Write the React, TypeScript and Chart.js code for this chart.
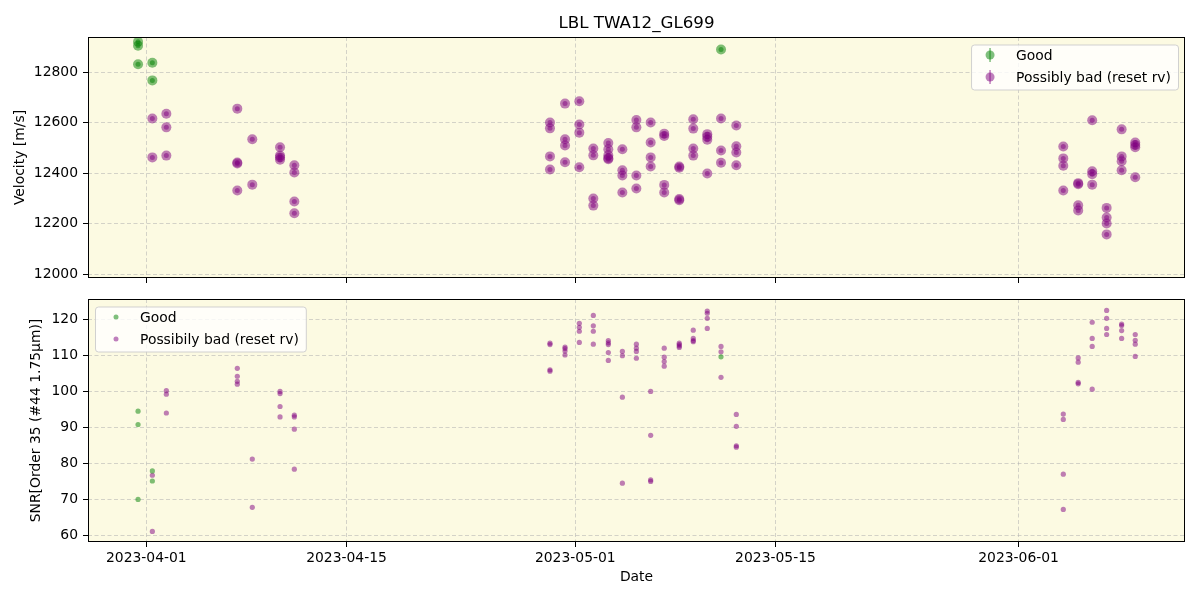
import React, { useEffect, useRef } from "react";
import { Chart, registerables } from "chart.js";

Chart.register(...registerables);

// ---------------- DATA ----------------
const chartTitle = "LBL TWA12_GL699";
const xTickDates = ["2023-04-01", "2023-04-15", "2023-05-01", "2023-05-15", "2023-06-01"];
const velocityTicks = [12000, 12200, 12400, 12600, 12800];
const snrTicks = [60, 70, 80, 90, 100, 110, 120];

const goodDates = [
  "2023-03-31T10:05", "2023-03-31T10:05", "2023-03-31T10:05",
  "2023-04-01T10:05", "2023-04-01T10:05",
  "2023-05-11T04:35",
];
const goodVelocity = [12921, 12905, 12832, 12838, 12768, 12890];
const goodSnr = [94.4, 90.7, 69.9, 77.8, 75.0, 109.5];

const badDates = [
  "2023-04-01T10:05", "2023-04-01T10:05",
  "2023-04-02T09:35", "2023-04-02T09:35", "2023-04-02T09:35",
  "2023-04-07T08:40", "2023-04-07T08:40", "2023-04-07T08:40", "2023-04-07T08:40",
  "2023-04-08T09:50", "2023-04-08T09:50",
  "2023-04-10T08:25", "2023-04-10T08:25", "2023-04-10T08:25", "2023-04-10T08:25",
  "2023-04-11T08:25", "2023-04-11T08:25", "2023-04-11T08:25", "2023-04-11T08:25",
  "2023-04-29T05:30", "2023-04-29T05:30", "2023-04-29T05:30", "2023-04-29T05:30",
  "2023-04-30T06:45", "2023-04-30T06:45", "2023-04-30T06:45", "2023-04-30T06:45",
  "2023-05-01T06:45", "2023-05-01T06:45", "2023-05-01T06:45", "2023-05-01T06:45",
  "2023-05-02T06:15", "2023-05-02T06:15", "2023-05-02T06:15", "2023-05-02T06:15",
  "2023-05-03T07:25", "2023-05-03T07:25", "2023-05-03T07:25", "2023-05-03T07:25", "2023-05-03T07:25",
  "2023-05-04T07:00", "2023-05-04T07:00", "2023-05-04T07:00", "2023-05-04T07:00",
  "2023-05-05T06:30", "2023-05-05T06:30", "2023-05-05T06:30", "2023-05-05T06:30",
  "2023-05-06T06:30", "2023-05-06T06:30", "2023-05-06T06:30", "2023-05-06T06:30",
  "2023-05-07T05:15", "2023-05-07T05:15", "2023-05-07T05:15", "2023-05-07T05:15",
  "2023-05-08T06:30", "2023-05-08T06:30", "2023-05-08T06:30", "2023-05-08T06:30",
  "2023-05-09T06:00", "2023-05-09T06:00", "2023-05-09T06:00", "2023-05-09T06:00",
  "2023-05-10T05:30", "2023-05-10T05:30", "2023-05-10T05:30", "2023-05-10T05:30",
  "2023-05-11T04:35", "2023-05-11T04:35", "2023-05-11T04:35",
  "2023-05-12T06:15", "2023-05-12T06:15", "2023-05-12T06:15", "2023-05-12T06:15",
  "2023-06-04T03:05", "2023-06-04T03:05", "2023-06-04T03:05", "2023-06-04T03:05",
  "2023-06-05T04:05", "2023-06-05T04:05", "2023-06-05T04:05", "2023-06-05T04:05",
  "2023-06-06T03:35", "2023-06-06T03:35", "2023-06-06T03:35", "2023-06-06T03:35",
  "2023-06-07T03:50", "2023-06-07T03:50", "2023-06-07T03:50", "2023-06-07T03:50",
  "2023-06-08T05:00", "2023-06-08T05:00", "2023-06-08T05:00", "2023-06-08T05:00",
  "2023-06-09T03:50", "2023-06-09T03:50", "2023-06-09T03:50", "2023-06-09T03:50",
];
const badVelocity = [
  12617, 12463,
  12636, 12582, 12470,
  12656, 12443, 12439, 12332,
  12535, 12355,
  12503, 12470, 12463, 12454,
  12432, 12403, 12288, 12242,
  12601, 12578, 12467, 12415,
  12676, 12535, 12510, 12444,
  12685, 12593, 12561, 12424,
  12498, 12471, 12300, 12272,
  12520, 12495, 12471, 12460, 12456,
  12495, 12412, 12391, 12324,
  12611, 12582, 12391, 12340,
  12601, 12522, 12463, 12427,
  12557, 12548, 12354, 12324,
  12427, 12422, 12298, 12293,
  12614, 12577, 12498, 12470,
  12555, 12545, 12533, 12399,
  12617, 12490, 12442,
  12589, 12507, 12482, 12432,
  12506, 12459, 12430, 12332,
  12361, 12357, 12273, 12253,
  12610, 12408, 12396, 12355,
  12263, 12225, 12201, 12158,
  12574, 12467, 12448, 12412,
  12522, 12512, 12503, 12384,
];
const badSnr = [
  76.6, 61.0,
  100.1, 99.1, 93.9,
  106.3, 104.1, 102.7, 101.9,
  81.1, 67.7,
  99.9, 99.3, 95.7, 92.8,
  93.3, 92.8, 89.4, 78.3,
  113.3, 112.9, 105.9, 105.5,
  112.2, 111.8, 111.1, 110.0,
  118.8, 117.7, 116.6, 113.5,
  121.0, 118.1, 116.6, 113.0,
  114.0, 113.4, 112.9, 110.7, 108.5,
  111.0, 109.8, 98.3, 74.4,
  113.0, 111.9, 111.0, 109.1,
  99.9, 87.7, 75.3, 74.9,
  111.9, 109.4, 108.2, 106.9,
  113.3, 112.9, 112.5, 112.1,
  116.9, 114.6, 114.0, 113.7,
  122.2, 121.6, 120.2, 117.4,
  112.4, 110.9, 103.8,
  93.5, 90.2, 84.8, 84.4,
  93.6, 92.1, 76.9, 67.1,
  109.2, 108.0, 102.4, 102.0,
  119.1, 114.6, 112.4, 100.5,
  122.4, 120.2, 117.4, 115.7,
  118.6, 118.2, 116.8, 114.6,
  115.7, 114.1, 113.0, 109.6,
];

// ---------------- HELPERS ----------------
const EPOCH = Date.UTC(2023, 3, 1);
const toDay = (s: string) => (Date.parse((s.length > 10 ? s : s + "T00:00") + ":00Z") - EPOCH) / 86400000;
const xTickValues = xTickDates.map(toDay);
const X_MIN = -4.08;
const X_MAX = 72.64;

const FONT = "'DejaVu Sans', sans-serif";
const FS = 13.9;
const BG = "rgb(252,250,226)";
const GREEN = "rgba(0,128,0,0.5)";
const PURPLE = "rgba(128,0,128,0.5)";
const GRID = "rgba(176,176,176,0.55)";

const pts = (dates: string[], vals: number[]) => dates.map((d, i) => ({ x: toDay(d), y: vals[i] }));

const framePlugin = {
  id: "frame",
  beforeDraw(chart: any) {
    const { ctx, chartArea: a } = chart;
    ctx.save();
    ctx.fillStyle = BG;
    ctx.fillRect(a.left, a.top, a.right - a.left, a.bottom - a.top);
    ctx.restore();
  },
  afterDraw(chart: any) {
    const { ctx, chartArea: a } = chart;
    ctx.save();
    ctx.strokeStyle = "#000";
    ctx.lineWidth = 1;
    ctx.strokeRect(Math.round(a.left) + 0.5, Math.round(a.top) + 0.5, Math.round(a.right - a.left) - 1, Math.round(a.bottom - a.top) - 1);
    ctx.restore();
  },
};

function makeLegendPlugin(cfg: { align: "left" | "right"; errorbar: boolean; items: { label: string; color: string }[] }) {
  return {
    id: "customLegend",
    afterDraw(chart: any) {
      const { ctx, chartArea: a } = chart;
      ctx.save();
      ctx.font = `${FS}px ${FONT}`;
      const tw = Math.max(...cfg.items.map((i) => ctx.measureText(i.label).width));
      const w = 45 + tw + 7;
      const h = 45;
      const x = cfg.align === "right" ? a.right - 7 - w : a.left + 7;
      const y = a.top + 7.5;
      ctx.beginPath();
      (ctx as any).roundRect(x + 0.5, y + 0.5, w, h, 3);
      ctx.fillStyle = "rgba(255,255,255,0.8)";
      ctx.fill();
      ctx.strokeStyle = "rgba(204,204,204,0.9)";
      ctx.lineWidth = 1;
      ctx.stroke();
      cfg.items.forEach((it, i) => {
        const ry = y + 10.5 + i * 22;
        const mx = x + (cfg.errorbar ? 19 : 21);
        ctx.fillStyle = it.color;
        if (cfg.errorbar) {
          ctx.strokeStyle = it.color;
          ctx.lineWidth = 1.5;
          ctx.beginPath();
          ctx.moveTo(mx, ry - 7);
          ctx.lineTo(mx, ry + 7);
          ctx.stroke();
          ctx.beginPath();
          ctx.arc(mx, ry, 4.5, 0, Math.PI * 2);
          ctx.fill();
        } else {
          ctx.beginPath();
          ctx.arc(mx, ry, 2.5, 0, Math.PI * 2);
          ctx.fill();
        }
        ctx.fillStyle = "#000";
        ctx.textBaseline = "middle";
        ctx.textAlign = "left";
        ctx.fillText(it.label, x + 45, ry + 1);
      });
      ctx.restore();
    },
  };
}

const titlePlugin = {
  id: "mainTitle",
  afterDraw(chart: any) {
    const { ctx, chartArea: a } = chart;
    ctx.save();
    ctx.font = `16.7px ${FONT}`;
    ctx.fillStyle = "#000";
    ctx.textAlign = "center";
    ctx.textBaseline = "middle";
    ctx.fillText(chartTitle, (a.left + a.right) / 2, 23.5);
    ctx.restore();
  },
};

function xScale(showLabels: boolean) {
  return {
    type: "linear",
    min: X_MIN,
    max: X_MAX,
    afterBuildTicks: (s: any) => {
      s.ticks = xTickValues.map((v) => ({ value: v }));
    },
    afterFit: (s: any) => {
      s.height = showLabels ? 58 : 12;
      s.paddingLeft = 0;
      s.paddingRight = 0;
      s.paddingTop = 0;
      s.paddingBottom = 0;
    },
    ticks: {
      display: showLabels,
      autoSkip: false,
      maxRotation: 0,
      padding: 3,
      color: "#000",
      font: { family: FONT, size: FS },
      callback: (_v: any, i: number) => xTickDates[i],
    },
    grid: {
      color: GRID,
      lineWidth: 1,
      drawTicks: true,
      tickLength: 5,
      tickColor: "#000",
      tickWidth: 1,
      tickBorderDash: [],
    },
    border: { display: false, dash: [4, 2.5] },
    title: {
      display: showLabels,
      text: "Date",
      color: "#000",
      font: { family: FONT, size: FS },
      padding: { top: 0, bottom: 14 },
    },
  };
}

function yScale(min: number, max: number, ticks: number[], title: string, titlePad: number) {
  return {
    type: "linear",
    min,
    max,
    afterBuildTicks: (s: any) => {
      s.ticks = ticks.map((v) => ({ value: v }));
    },
    afterFit: (s: any) => {
      s.width = 88;
      s.paddingLeft = 0;
      s.paddingRight = 0;
      s.paddingTop = 0;
      s.paddingBottom = 0;
    },
    ticks: {
      padding: 5,
      color: "#000",
      font: { family: FONT, size: FS },
      callback: (v: any) => String(v),
    },
    grid: {
      color: GRID,
      lineWidth: 1,
      drawTicks: true,
      tickLength: 5,
      tickColor: "#000",
      tickWidth: 1,
      tickBorderDash: [],
    },
    border: { display: false, dash: [4, 2.5] },
    title: {
      display: true,
      text: title,
      color: "#000",
      font: { family: FONT, size: FS },
      padding: { top: titlePad, bottom: 0 },
    },
  };
}

export default function App() {
  const topRef = useRef<HTMLCanvasElement | null>(null);
  const botRef = useRef<HTMLCanvasElement | null>(null);

  useEffect(() => {
    const goodV = pts(goodDates, goodVelocity);
    const badV = pts(badDates, badVelocity);
    const goodS = pts(goodDates, goodSnr);
    const badS = pts(badDates, badSnr);

    const top = new Chart(topRef.current as HTMLCanvasElement, {
      type: "scatter",
      data: {
        datasets: [
          { label: "Good", data: goodV, backgroundColor: GREEN, pointRadius: 5, pointBorderWidth: 0, borderWidth: 0 },
          { label: "Good-c", data: goodV, backgroundColor: GREEN, pointRadius: 2.5, pointBorderWidth: 0, borderWidth: 0 },
          { label: "Possibly bad (reset rv)", data: badV, backgroundColor: PURPLE, pointRadius: 5, pointBorderWidth: 0, borderWidth: 0 },
          { label: "Bad-c", data: badV, backgroundColor: PURPLE, pointRadius: 2.5, pointBorderWidth: 0, borderWidth: 0 },
        ],
      },
      options: {
        responsive: false,
        animation: false,
        events: [],
        layout: { padding: { top: 37, right: 15, left: 0, bottom: 0 } },
        plugins: { legend: { display: false }, tooltip: { enabled: false } },
        scales: {
          x: xScale(false) as any,
          y: yScale(11985.3, 12939.8, velocityTicks, "Velocity [m/s]", 12) as any,
        },
      },
      plugins: [
        framePlugin,
        titlePlugin,
        makeLegendPlugin({
          align: "right",
          errorbar: true,
          items: [
            { label: "Good", color: GREEN },
            { label: "Possibly bad (reset rv)", color: PURPLE },
          ],
        }),
      ],
    } as any);

    const bot = new Chart(botRef.current as HTMLCanvasElement, {
      type: "scatter",
      data: {
        datasets: [
          { label: "Good", data: goodS, backgroundColor: GREEN, pointRadius: 2.6, pointBorderWidth: 0, borderWidth: 0 },
          { label: "Possibily bad (reset rv)", data: badS, backgroundColor: PURPLE, pointRadius: 2.6, pointBorderWidth: 0, borderWidth: 0 },
        ],
      },
      options: {
        responsive: false,
        animation: false,
        events: [],
        layout: { padding: { top: 9, right: 15, left: 0, bottom: 0 } },
        plugins: { legend: { display: false }, tooltip: { enabled: false } },
        scales: {
          x: xScale(true) as any,
          y: yScale(58.06, 125.56, snrTicks, "SNR[Order 35 (#44 1.75\u03bcm)]", 28) as any,
        },
      },
      plugins: [
        framePlugin,
        makeLegendPlugin({
          align: "left",
          errorbar: false,
          items: [
            { label: "Good", color: GREEN },
            { label: "Possibily bad (reset rv)", color: PURPLE },
          ],
        }),
      ],
    } as any);

    return () => {
      top.destroy();
      bot.destroy();
    };
  }, []);

  return (
    <div style={{ position: "absolute", left: 0, top: 0, width: 1200, height: 600, background: "#fff" }}>
      <canvas ref={topRef} width={1200} height={290} style={{ position: "absolute", left: 0, top: 0 }} />
      <canvas ref={botRef} width={1200} height={310} style={{ position: "absolute", left: 0, top: 290 }} />
    </div>
  );
}
